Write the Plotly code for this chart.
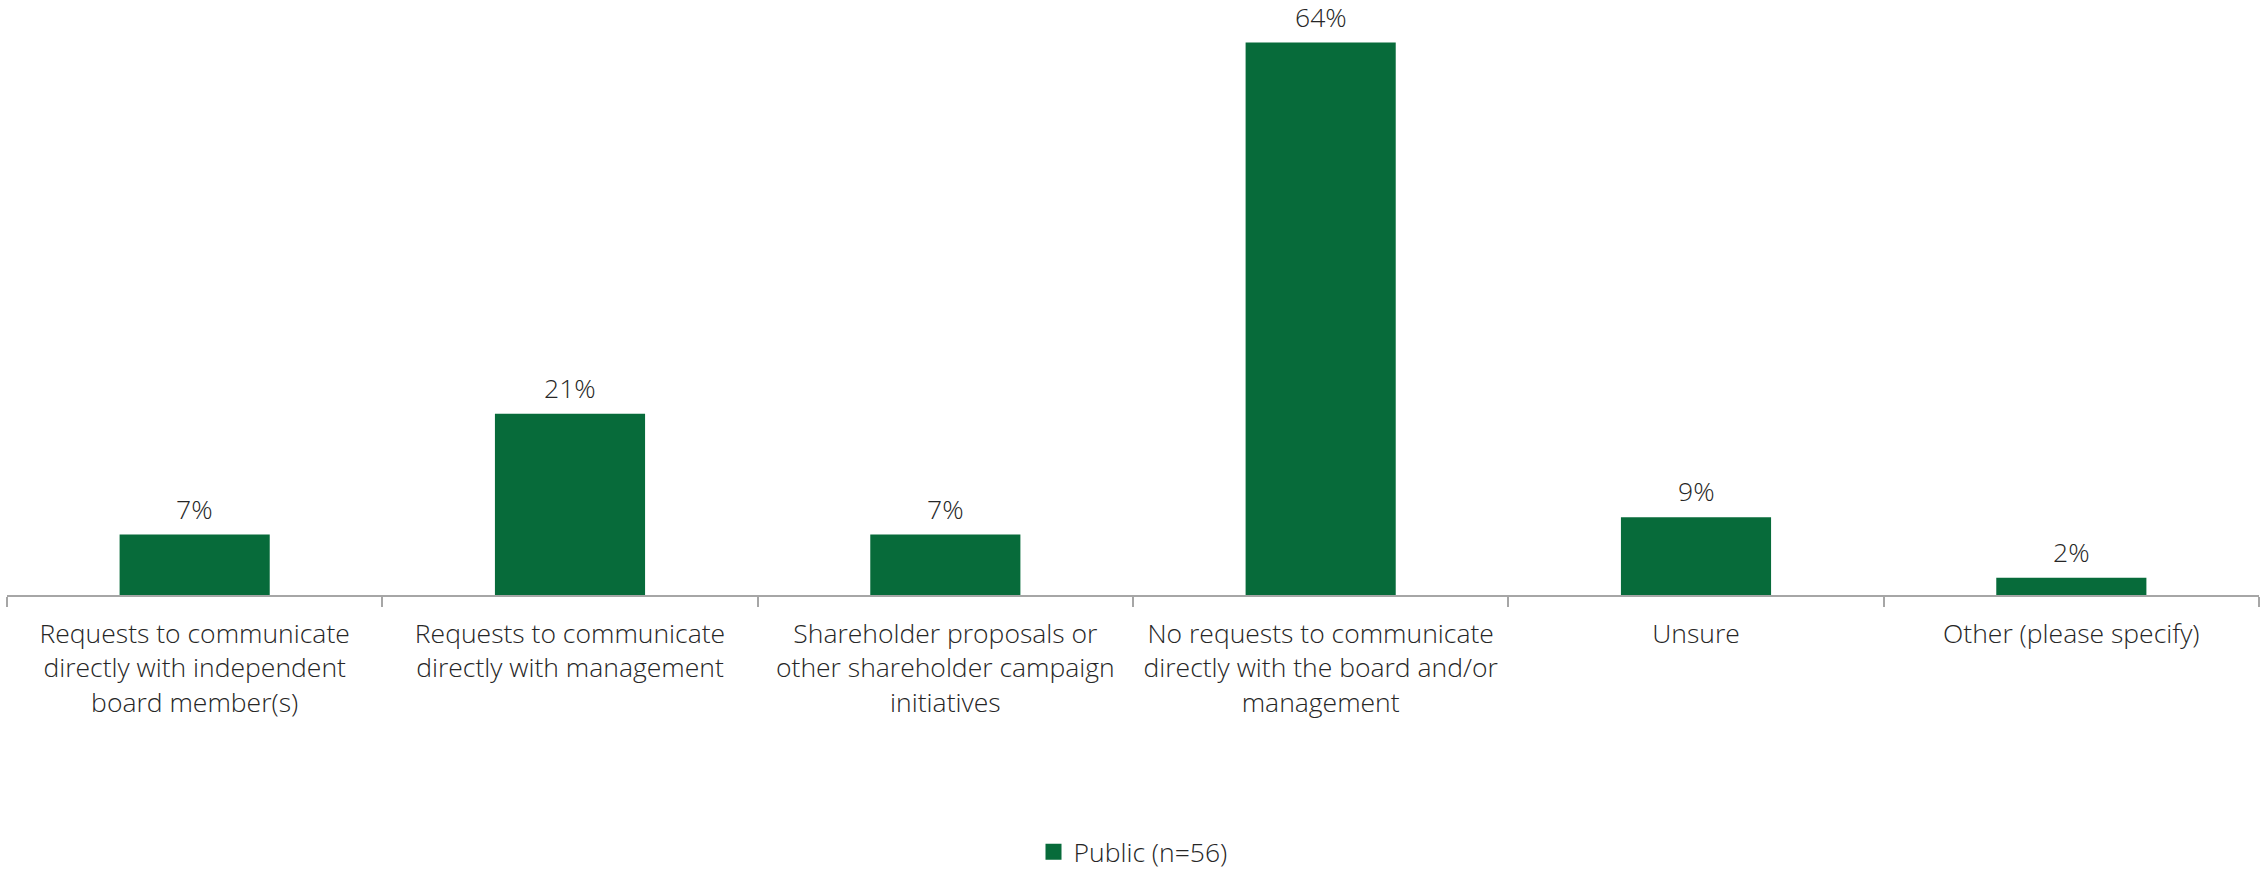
import plotly.graph_objects as go

# Survey responses (share of respondents, %)
categories = [
    "Requests to communicate<br>directly with independent<br>board member(s)",
    "Requests to communicate<br>directly with management",
    "Shareholder proposals or<br>other shareholder campaign<br>initiatives",
    "No requests to communicate<br>directly with the board and/or<br>management",
    "Unsure",
    "Other (please specify)",
]
values = [7, 21, 7, 64, 9, 2]
series_name = "Public (n=56)"

GREEN = "#076B3A"
AXIS_GREY = "#A6A6A6"
TEXT = "#262626"
FONT = dict(family="Open Sans", size=26.5, color=TEXT, weight=300)

fig = go.Figure()

fig.add_trace(
    go.Bar(
        x=categories,
        y=values,
        name=series_name,
        marker=dict(color=GREEN, line=dict(width=0)),
        cliponaxis=False,
        showlegend=False,
    )
)

# Value labels sitting a little above each bar
for cat, val in zip(categories, values):
    fig.add_annotation(
        x=cat,
        y=val,
        text=f"{val}%",
        showarrow=False,
        yanchor="bottom",
        yshift=7,
        borderpad=0,
        font=FONT,
    )

# Legend entry with a larger square swatch
fig.add_trace(
    go.Scatter(
        x=[None],
        y=[None],
        mode="markers",
        name=series_name,
        marker=dict(symbol="square", size=17, color=GREEN),
        showlegend=True,
    )
)

fig.update_layout(
    width=2262,
    height=872,
    margin=dict(l=7, r=3, t=8, b=277, autoexpand=False),
    paper_bgcolor="white",
    plot_bgcolor="white",
    bargap=0.6,
    font=FONT,
    showlegend=True,
    legend=dict(
        orientation="h",
        x=0.5,
        xanchor="center",
        y=-0.438,
        yanchor="middle",
        font=FONT,
        itemwidth=30,
        borderwidth=0,
    ),
    xaxis=dict(
        type="category",
        automargin=False,
        showline=True,
        linecolor=AXIS_GREY,
        linewidth=2,
        ticks="outside",
        tickson="boundaries",
        ticklen=10,
        tickcolor=AXIS_GREY,
        tickwidth=2,
        tickfont=FONT,
        ticklabelstandoff=14,
        showgrid=False,
    ),
    yaxis=dict(
        range=[0, 68],
        visible=False,
        showgrid=False,
        zeroline=False,
    ),
)

fig.write_html("out.html")
